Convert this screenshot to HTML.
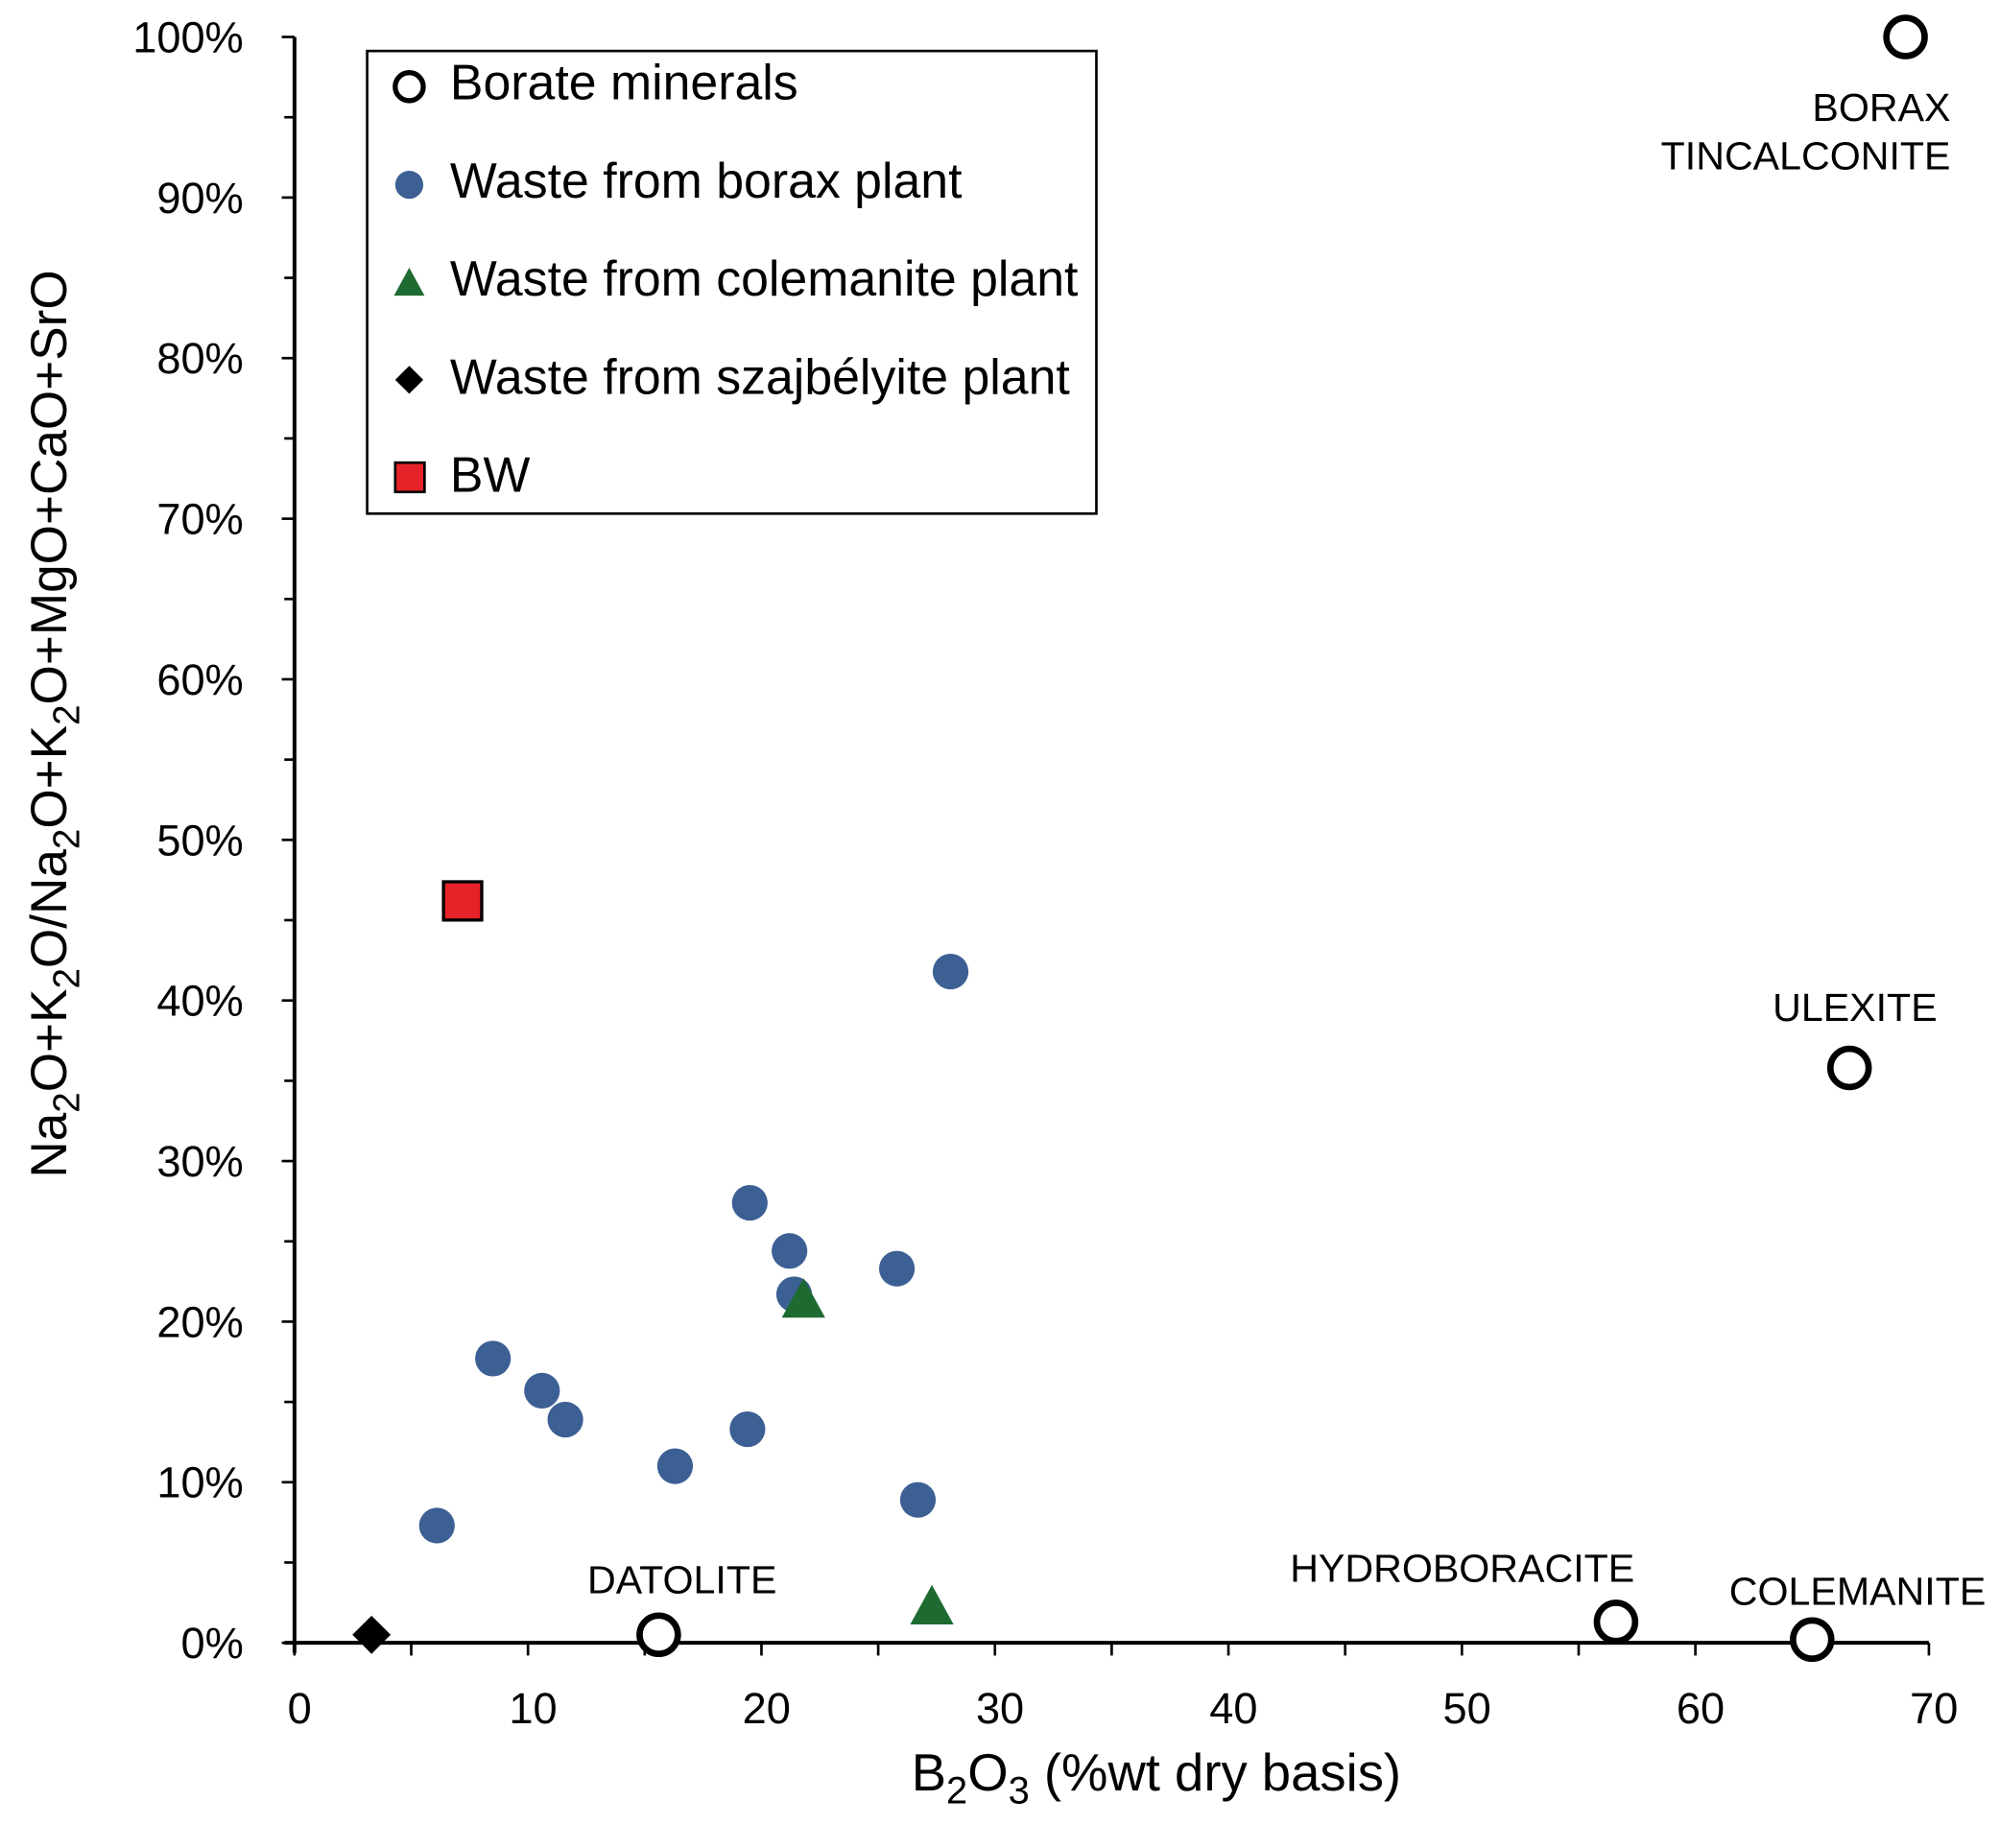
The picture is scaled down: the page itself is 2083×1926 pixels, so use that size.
<!DOCTYPE html>
<html><head><meta charset="utf-8"><style>
html,body{margin:0;padding:0;background:#fff}
svg{display:block;font-family:"Liberation Sans",Arial,sans-serif}
</style></head><body>
<svg id="chart" width="2083" height="1926" viewBox="0 0 1568 1450" preserveAspectRatio="none" xmlns="http://www.w3.org/2000/svg">
<g id="axes"></g><g id="marks"></g>
<g>
<rect x="288" y="40" width="572" height="363" fill="#fff" stroke="#000" stroke-width="2"/>
<circle cx="321" cy="68" r="11" fill="#fff" stroke="#000" stroke-width="4"/>
<text x="353" y="78" font-size="39">Borate minerals</text>
<circle cx="321" cy="145" r="11" fill="#3c5f94"/>
<text x="353" y="155" font-size="39">Waste from borax plant</text>
<polygon points="321,210 333,232 309,232" fill="#1d6b30"/>
<text x="353" y="232" font-size="39">Waste from colemanite plant</text>
<polygon points="321,287 332,298 321,309 310,298" fill="#000"/>
<text x="353" y="309" font-size="39">Waste from szajbélyite plant</text>
<rect x="310" y="363" width="23" height="23" fill="#e52329" stroke="#000" stroke-width="2"/>
<text x="353" y="386" font-size="39">BW</text>
</g>
<text x="907" y="1405" font-size="41" text-anchor="middle">B<tspan font-size="30" dy="10">2</tspan><tspan dy="-10">O</tspan><tspan font-size="30" dy="10">3</tspan><tspan dy="-10"> (%wt dry basis)</tspan></text>
<text transform="translate(52,568) rotate(-90)" font-size="40" text-anchor="middle">Na<tspan font-size="29" dy="10">2</tspan><tspan dy="-10">O+K</tspan><tspan font-size="29" dy="10">2</tspan><tspan dy="-10">O/Na</tspan><tspan font-size="29" dy="10">2</tspan><tspan dy="-10">O+K</tspan><tspan font-size="29" dy="10">2</tspan><tspan dy="-10">O+MgO+CaO+SrO</tspan></text>
</svg>
<script>
const xTicks=[0,10,20,30,40,50,60,70];
const yTicks=[0,10,20,30,40,50,60,70,80,90,100];
const mineralX=[69,66.6,15.6,56.6,65.0];
const mineralY=[100,35.8,0.5,1.3,0.2];
const mineralNames=["BORAX\nTINCALCONITE","ULEXITE","DATOLITE","HYDROBORACITE","COLEMANITE"];
const boraxX=[28.1,19.5,21.2,25.8,21.4,8.5,10.6,11.6,19.4,16.3,26.7,6.1];
const boraxY=[41.8,27.4,24.4,23.3,21.7,17.7,15.7,13.9,13.3,11.0,8.9,7.3];
const colemX=[21.8,27.3];
const colemY=[21.2,2.1];
const szajX=[3.3];
const szajY=[0.5];
const bwX=[7.2];
const bwY=[46.2];
const labelPos=[[1530,95,"end"],[1455,801,"middle"],[535,1250,"middle"],[1147,1241,"middle"],[1457,1259,"middle"]];
const X0=231,X1=1513,Y0=1289,Y1=29;
const sx=v=>X0+v/70*(X1-X0);
const sy=v=>Y0-v/100*(Y0-Y1);
const NS="http://www.w3.org/2000/svg";
function mk(tag,attrs,parent){const e=document.createElementNS(NS,tag);for(const k in attrs)e.setAttribute(k,attrs[k]);parent.appendChild(e);return e;}
const ax=document.getElementById('axes'),mk_=document.getElementById('marks');
let l=mk('line',{x1:X0,y1:Y1,x2:X0,y2:Y0+8,stroke:'#000','stroke-width':3},ax);


l=mk('line',{x1:X0-8,y1:Y0,x2:X1,y2:Y0,stroke:'#000','stroke-width':3},ax);


for(let v=0;v<=100;v+=5){mk('line',{x1:X0-(v%10?0:10),x2:X0+(v%10?-8:0),y1:sy(v),y2:sy(v),stroke:'#000','stroke-width':2},ax);}
for(let v=0;v<=70;v+=5){mk('line',{x1:sx(v),x2:sx(v),y1:Y0,y2:Y0+10,stroke:'#000','stroke-width':2},ax);}
yTicks.forEach(v=>{const t=mk('text',{x:191,y:sy(v)+12,'font-size':34,'text-anchor':'end'},ax);t.textContent=v+'%';

});
xTicks.forEach(v=>{const t=mk('text',{x:sx(v)+4,y:1352,'font-size':34,'text-anchor':'middle'},ax);t.textContent=v;

});
boraxX.forEach((v,i)=>{const c=mk('circle',{cx:sx(v),cy:sy(boraxY[i]),r:14,fill:'#3c5f94'},mk_);

});
colemX.forEach((v,i)=>{const x=sx(v),y=sy(colemY[i]);const p=mk('polygon',{points:`${x},${y-19} ${x+17},${y+12} ${x-17},${y+12}`,fill:'#1d6b30'},mk_);

});
szajX.forEach((v,i)=>{const x=sx(v),y=sy(szajY[i]);const p=mk('polygon',{points:`${x},${y-15} ${x+15},${y} ${x},${y+15} ${x-15},${y}`,fill:'#000'},mk_);

});
bwX.forEach((v,i)=>{const r=mk('rect',{x:sx(v)-15,y:sy(bwY[i])-15,width:30,height:30,fill:'#e52329',stroke:'#000','stroke-width':2.5},mk_);

});
mineralX.forEach((v,i)=>{const c=mk('circle',{cx:sx(v),cy:sy(mineralY[i]),r:15,fill:'#fff',stroke:'#000','stroke-width':5},mk_);


const [lx,ly,an]=labelPos[i];const lines=mineralNames[i].split('\n');
lines.forEach((s,j)=>{const t=mk('text',{x:lx,y:ly+j*38,'font-size':31,'text-anchor':an},mk_);t.textContent=s;

});});
</script>
</body></html>
